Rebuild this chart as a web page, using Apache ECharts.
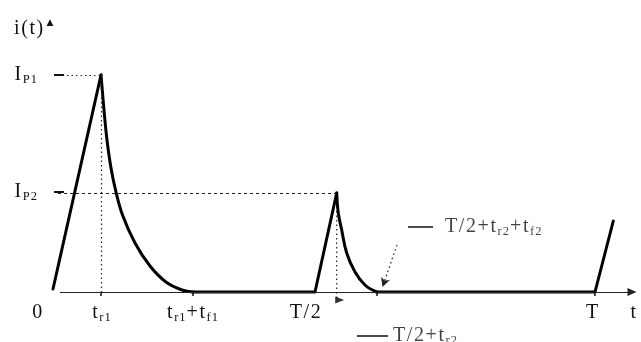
<!DOCTYPE html>
<html><head><meta charset="utf-8">
<script src="https://cdn.jsdelivr.net/npm/echarts@6/dist/echarts.min.js"></script>
<style>html,body{margin:0;padding:0;background:#fff}#c{width:641px;height:342px}</style>
</head><body><div id="c"></div>
<script>
// waveform i(t) in arbitrary time / current units
const rise1 = [[-0.1, 0.03], [4.7, 2.17]];
const decay1T = [4.7, 5.0, 5.3, 5.7, 6.2, 6.85, 8.1, 9.6, 11.2, 12.8, 13.9];
const decay1I = [2.17, 1.82, 1.52, 1.24, 1.0, 0.77, 0.49, 0.26, 0.10, 0.02, 0];
const flatRise2 = [[13.9, 0], [26.1, 0], [28.27, 0.99]];
const decay2T = [28.27, 28.43, 28.75, 29.27, 30.1, 31.1, 32.27];
const decay2I = [0.99, 0.79, 0.63, 0.39, 0.20, 0.07, 0];
const flatRise3 = [[32.27, 0], [54.1, 0], [55.93, 0.71]];
const peak1 = [4.7, 2.17];
const peak2 = [28.27, 0.99];
const xTickPos = [-1.6, 4.8, 13.9, 25.2, 53.9, 58.0];
const xTickLabels = ['{b|0}', '{b|t}{s|r1}', '{b|t}{s|r1}{b|+t}{s|f1}', '{b|T/2}', '{b|T}', '{b|t}'];
const xMarkPos = [4.7, 13.9, 32.27, 54.1];
const yTickPos = [1.0, 2.17];
const yTickLabels = ['{b|I}{s|P2}', '{b|I}{s|P1}'];
const annoText = ['{b|T/2+t}{s|r2}{b|+t}{s|f2}', '{b|T/2+t}{s|r2}'];
const annoPos = [[39.1, 0.65], [33.9, -0.44]];
const annoDash = [[[35.4, 0.65], [37.9, 0.65]], [[30.3, -0.44], [33.4, -0.44]]];
const annoArrow = [[34.3, 0.47], [32.85, 0.05]];
const peak2Drop = -0.08;

const SERIF = 'Liberation Serif';
const rich = {
  b: {fontFamily: SERIF, fontSize: 20, color: '#111', lineHeight: 22, fontWeight: 'normal', padding: [0, 1.6, 0, 0]},
  s: {fontFamily: SERIF, fontSize: 12.5, color: '#111', lineHeight: 14, verticalAlign: 'bottom', fontWeight: 'normal', padding: [0, 1, 0, 0]}
};
// spread each character into its own token (letter spacing as in the scanned original)
function spaced(markup) {
  return markup.replace(/\{(\w+)\|([^}]*)\}/g, (m, st, txt) =>
    Array.from(txt).map(c => '{' + st + '|' + c + '}').join(''));
}
function pick(pos, labels) {
  return function (v) {
    for (let i = 0; i < pos.length; i++) if (Math.abs(pos[i] - v) < 1e-6) return spaced(labels[i]);
    return '';
  };
}
const zip = (ts, is) => ts.map((t, i) => [t, is[i]]);
const curveLine = {color: '#000', width: 3, join: 'round', cap: 'round'};
const dotted = {type: [1.5, 3], color: '#222', width: 1.2};
const solidThin = {type: 'solid', color: '#111', width: 1.5};
const plain = (data, lineStyle) => ({
  type: 'line', clip: false, silent: true, z: 2, showSymbol: false, symbol: 'none',
  lineStyle: lineStyle, data: data
});
const chart = echarts.init(document.getElementById('c'), null, {renderer: 'canvas'});
chart.setOption({
  animation: false,
  backgroundColor: '#fff',
  title: {
    text: spaced('{b|i(t)}') + '{g| }{a|▲}', left: 9, top: 13,
    textStyle: {fontWeight: 'normal', rich: {
      b: rich.b,
      g: {fontSize: 6, lineHeight: 22},
      a: {fontFamily: 'DejaVu Sans', fontSize: 9, color: '#111', verticalAlign: 'top', lineHeight: 12}
    }}
  },
  grid: {left: 24, right: 5, top: 21, bottom: 50, outerBoundsMode: 'none'},
  xAxis: {
    type: 'value', min: -3, max: 58.2,
    axisLine: {show: false},
    splitLine: {show: false},
    axisTick: {show: true, customValues: xMarkPos, length: 4, lineStyle: {color: '#111', width: 1.5}},
    axisLabel: {customValues: xTickPos, margin: 10, formatter: pick(xTickPos, xTickLabels), rich: rich}
  },
  yAxis: {
    type: 'value', min: 0, max: 2.71, offset: -23,
    axisLine: {show: false},
    splitLine: {show: false},
    axisTick: {show: true, inside: true, customValues: yTickPos, length: 10, lineStyle: {color: '#111', width: 2}},
    axisLabel: {customValues: yTickPos, margin: 9, formatter: pick(yTickPos, yTickLabels), rich: rich}
  },
  series: [
    {
      type: 'line', clip: false, silent: true, z: 1,
      data: [], showSymbol: false,
      markLine: {
        silent: true, animation: false, symbol: 'none', label: {show: false},
        data: [
          [{coord: [0.6, 0], symbol: 'none', lineStyle: {type: 'solid', color: '#222', width: 1}},
           {coord: [57.8, 0], symbol: 'triangle', symbolSize: [8, 9]}],
          [{coord: [0.4, peak1[1]], lineStyle: dotted}, {coord: peak1}],
          [{coord: [0.4, peak2[1]], lineStyle: {type: [3, 3], color: '#222', width: 1.2}}, {coord: peak2}],
          [{coord: peak1, lineStyle: dotted}, {coord: [peak1[0], 0]}],
          [{coord: annoArrow[0], lineStyle: dotted, symbol: 'none'}, {coord: annoArrow[1], symbol: 'arrow', symbolSize: [7, 9]}],
          [{coord: annoDash[0][0], lineStyle: solidThin}, {coord: annoDash[0][1]}]
        ]
      }
    },
    plain([peak2, [peak2[0], peak2Drop]], dotted),
    plain(annoDash[1], solidThin),
    {
      type: 'line', clip: false, silent: true, z: 3, showSymbol: false, connectNulls: false,
      lineStyle: curveLine,
      data: [].concat(rise1, ['-'], flatRise2, ['-'], flatRise3)
    },
    {
      type: 'line', clip: false, silent: true, z: 3, showSymbol: false, smooth: 0.4,
      lineStyle: curveLine, data: zip(decay1T, decay1I)
    },
    {
      type: 'line', clip: false, silent: true, z: 3, showSymbol: false, smooth: 0.4,
      lineStyle: curveLine, data: zip(decay2T, decay2I)
    },
    {
      type: 'scatter', clip: false, silent: true, z: 4,
      symbol: 'triangle', symbolRotate: -90, symbolSize: [7, 9],
      itemStyle: {color: '#000'},
      data: [[peak2[0] + 0.3, peak2Drop]]
    },
    {
      type: 'scatter', clip: false, silent: true, z: 4,
      symbolSize: 0, itemStyle: {color: '#000'},
      data: annoPos.map((p, i) => ({value: p, label: {show: true, position: 'right', distance: 0, formatter: spaced(annoText[i]), rich: rich}}))
    }
  ]
});
</script></body></html>
